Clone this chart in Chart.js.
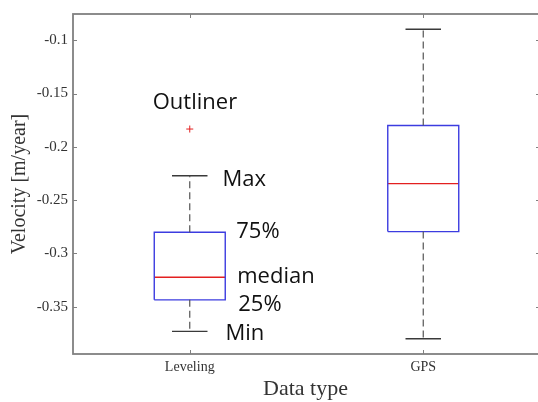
<!DOCTYPE html>
<html>
<head>
<meta charset="utf-8">
<title>Velocity by data type</title>
<script src="https://cdn.jsdelivr.net/npm/chart.js@4.4.1/dist/chart.umd.min.js"></script>
<style>
    html, body { margin: 0; padding: 0; background: #ffffff; overflow: hidden; }
</style>
</head>
<body>
<canvas id="velocityChart" width="538" height="402"></canvas>
<script>
// Box plot statistics per data type (m/year)
const categories = ['Leveling', 'GPS'];
const whiskerLow = [-0.373, -0.380];
const quartile1 = [-0.3435, -0.2795];
const medians = [-0.3223, -0.2345];
const quartile3 = [-0.2801, -0.180];
const whiskerHigh = [-0.2271, -0.0897];
const outliers = [[-0.1833], []];
const yTicks = [-0.35, -0.3, -0.25, -0.2, -0.15, -0.1];
const notes = ['Outliner', 'Max', '75%', 'median', '25%', 'Min'];

const BOX_HALF = 0.152;
const CAP_HALF = 0.076;
const X_LIMIT = 2.5;       // axis limit, the frame's right side lies just off the canvas
const X_VIEW_MAX = 2.4914; // what is left visible of the x range
const AXIS_GRAY = '#808080';
const SERIF = '"Liberation Serif", "Times New Roman", serif';

// Builds polyline points, NaN breaks the line between pieces
function gap(x) {
    return { x: x, y: NaN };
}

const boxPoints = [];
const medianPoints = [];
const whiskerPoints = [];
const capPoints = [];
const outlierPoints = [];

categories.forEach((name, i) => {
    const x = i + 1;
    boxPoints.push(
        { x: x - BOX_HALF, y: quartile1[i] },
        { x: x + BOX_HALF, y: quartile1[i] },
        { x: x + BOX_HALF, y: quartile3[i] },
        { x: x - BOX_HALF, y: quartile3[i] },
        { x: x - BOX_HALF, y: quartile1[i] },
        gap(x)
    );
    medianPoints.push({ x: x - BOX_HALF, y: medians[i] }, { x: x + BOX_HALF, y: medians[i] }, gap(x));
    whiskerPoints.push(
        { x: x, y: quartile3[i] }, { x: x, y: whiskerHigh[i] }, gap(x),
        { x: x, y: quartile1[i] }, { x: x, y: whiskerLow[i] }, gap(x)
    );
    capPoints.push(
        { x: x - CAP_HALF, y: whiskerHigh[i] }, { x: x + CAP_HALF, y: whiskerHigh[i] }, gap(x),
        { x: x - CAP_HALF, y: whiskerLow[i] }, { x: x + CAP_HALF, y: whiskerLow[i] }, gap(x)
    );
    outliers[i].forEach(v => outlierPoints.push({ x: x, y: v }));
});

// Frame around the plot with inward tick marks on all four sides
const frameBox = {
    id: 'frameBox',
    afterDatasetsDraw(chart) {
        const { ctx, chartArea: a, scales: { x, y } } = chart;
        const right = x.getPixelForValue(X_LIMIT);
        ctx.save();
        ctx.strokeStyle = AXIS_GRAY;
        ctx.lineWidth = 1;
        ctx.beginPath();
        yTicks.forEach(v => {
            const py = Math.round(y.getPixelForValue(v)) + 0.5;
            ctx.moveTo(a.left, py); ctx.lineTo(a.left + 4, py);
            ctx.moveTo(right, py); ctx.lineTo(right - 4, py);
        });
        categories.forEach((c, i) => {
            const px = Math.round(x.getPixelForValue(i + 1)) + 0.5;
            ctx.moveTo(px, a.bottom); ctx.lineTo(px, a.bottom - 4);
            ctx.moveTo(px, a.top); ctx.lineTo(px, a.top + 4);
        });
        ctx.stroke();
        ctx.lineWidth = 1.8;
        ctx.strokeRect(a.left, a.top, right - a.left, a.bottom - a.top);
        ctx.restore();
    }
};

// Explanatory labels next to the Leveling box
const boxNotes = {
    id: 'boxNotes',
    afterDatasetsDraw(chart) {
        const { ctx, scales: { x, y } } = chart;
        const cx = x.getPixelForValue(1);
        const boxRight = x.getPixelForValue(1 + BOX_HALF);
        const capRight = x.getPixelForValue(1 + CAP_HALF);
        const spots = [
            [cx - 37, y.getPixelForValue(outliers[0][0]) - 26],
            [capRight + 15, y.getPixelForValue(whiskerHigh[0]) + 4],
            [boxRight + 11, y.getPixelForValue(quartile3[0]) - 1],
            [boxRight + 12, y.getPixelForValue(medians[0]) - 1],
            [boxRight + 13, y.getPixelForValue(quartile1[0]) + 5],
            [capRight + 18, y.getPixelForValue(whiskerLow[0]) + 2]
        ];
        ctx.save();
        ctx.font = '22px "Open Sans", "Noto Sans", sans-serif';
        ctx.fillStyle = '#111111';
        ctx.textAlign = 'left';
        ctx.textBaseline = 'middle';
        notes.forEach((t, i) => ctx.fillText(t, spots[i][0], spots[i][1]));
        ctx.restore();
    }
};

const ctx = document.getElementById('velocityChart');
new Chart(ctx, {
    type: 'scatter',
    data: {
        datasets: [
            {
                data: whiskerPoints,
                showLine: true,
                borderColor: '#555555',
                borderWidth: 1.2,
                borderDash: [7, 4],
                pointRadius: 0
            },
            {
                data: capPoints,
                showLine: true,
                borderColor: '#3a3a3a',
                borderWidth: 1.3,
                pointRadius: 0
            },
            {
                data: boxPoints,
                showLine: true,
                borderColor: '#3c3ce0',
                borderWidth: 1.4,
                borderJoinStyle: 'miter',
                pointRadius: 0
            },
            {
                data: medianPoints,
                showLine: true,
                borderColor: '#e32020',
                borderWidth: 1.3,
                pointRadius: 0
            },
            {
                data: outlierPoints,
                showLine: false,
                pointStyle: 'cross',
                pointRadius: 3.5,
                pointBorderWidth: 1,
                pointBorderColor: '#e32020',
                pointBackgroundColor: '#e32020'
            }
        ]
    },
    options: {
        responsive: false,
        devicePixelRatio: 1,
        animation: false,
        layout: {
            autoPadding: false,
            padding: { top: 13, right: 0, left: 0, bottom: 0 }
        },
        plugins: {
            legend: { display: false },
            tooltip: { enabled: false }
        },
        scales: {
            x: {
                type: 'linear',
                min: 0.5,
                max: X_VIEW_MAX,
                afterBuildTicks: scale => {
                    scale.ticks = categories.map((c, i) => ({ value: i + 1 }));
                },
                afterFit: scale => { scale.height = 48; },
                grid: { display: false, drawTicks: false },
                border: { display: false },
                ticks: {
                    callback: value => categories[value - 1],
                    color: '#333333',
                    padding: 5,
                    maxRotation: 0,
                    font: { family: SERIF, size: 14 }
                },
                title: {
                    display: true,
                    text: 'Data type',
                    color: '#333333',
                    padding: { top: 0, bottom: 0 },
                    font: { family: SERIF, size: 22 }
                }
            },
            y: {
                min: -0.3943,
                max: -0.0754,
                afterBuildTicks: scale => {
                    scale.ticks = yTicks.map(v => ({ value: v }));
                },
                afterFit: scale => { scale.width = 73; },
                grid: { display: false, drawTicks: false },
                border: { display: false },
                ticks: {
                    callback: value => String(value),
                    color: '#333333',
                    padding: 5,
                    font: { family: SERIF, size: 15 }
                },
                title: {
                    display: true,
                    text: 'Velocity [m/year]',
                    color: '#333333',
                    padding: { top: 8, bottom: 0 },
                    font: { family: SERIF, size: 20 }
                }
            }
        }
    },
    plugins: [frameBox, boxNotes]
});
</script>
</body>
</html>
